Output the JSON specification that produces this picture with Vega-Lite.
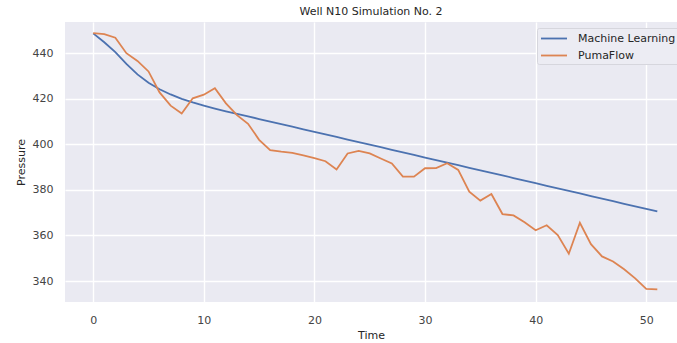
{
  "$schema": "https://vega.github.io/schema/vega-lite/v6.json",
  "width": 612,
  "height": 280,
  "autosize": {"type": "none"},
  "padding": {"left": 65, "top": 22, "right": 0, "bottom": 41},
  "background": "white",
  "title": {"text": "Well N10 Simulation No. 2", "font": "DejaVu Sans", "fontSize": 11, "fontWeight": "normal", "color": "#262626", "offset": 5, "anchor": "middle"},
  "config": {
    "view": {"fill": "#eaeaf2", "stroke": null},
    "font": "DejaVu Sans"
  },
  "datasets": {
    "ml": [
      {"t":0,"v":448.7},{"t":1,"v":444.8},{"t":2,"v":440.5},{"t":3,"v":435.3},{"t":4,"v":430.7},{"t":5,"v":427.0},{"t":6,"v":424.2},{"t":7,"v":421.9},{"t":8,"v":420.0},{"t":9,"v":418.4},{"t":10,"v":417.0},
      {"t":11,"v":415.7},{"t":12,"v":414.5},{"t":13,"v":413.4},{"t":14,"v":412.3},{"t":15,"v":411.1},{"t":16,"v":410.0},{"t":17,"v":408.9},{"t":18,"v":407.8},{"t":19,"v":406.6},{"t":20,"v":405.5},
      {"t":21,"v":404.4},{"t":22,"v":403.3},{"t":23,"v":402.1},{"t":24,"v":401.0},{"t":25,"v":399.9},{"t":26,"v":398.8},{"t":27,"v":397.6},{"t":28,"v":396.5},{"t":29,"v":395.4},{"t":30,"v":394.2},
      {"t":31,"v":393.1},{"t":32,"v":392.0},{"t":33,"v":390.9},{"t":34,"v":389.7},{"t":35,"v":388.6},{"t":36,"v":387.5},{"t":37,"v":386.4},{"t":38,"v":385.2},{"t":39,"v":384.1},{"t":40,"v":383.0},
      {"t":41,"v":381.8},{"t":42,"v":380.7},{"t":43,"v":379.6},{"t":44,"v":378.5},{"t":45,"v":377.3},{"t":46,"v":376.2},{"t":47,"v":375.1},{"t":48,"v":373.9},{"t":49,"v":372.8},{"t":50,"v":371.7},{"t":51,"v":370.6}
    ],
    "pf": [
      {"t":0,"v":448.8},{"t":1,"v":448.4},{"t":2,"v":446.8},{"t":3,"v":440.0},{"t":4,"v":436.6},{"t":5,"v":432.0},{"t":6,"v":422.8},{"t":7,"v":417.0},{"t":8,"v":413.5},{"t":9,"v":420.2},{"t":10,"v":421.8},
      {"t":11,"v":424.6},{"t":12,"v":418.0},{"t":13,"v":412.8},{"t":14,"v":409.0},{"t":15,"v":402.0},{"t":16,"v":397.5},{"t":17,"v":396.8},{"t":18,"v":396.3},{"t":19,"v":395.2},{"t":20,"v":394.0},
      {"t":21,"v":392.6},{"t":22,"v":389.0},{"t":23,"v":396.0},{"t":24,"v":397.1},{"t":25,"v":396.0},{"t":26,"v":393.8},{"t":27,"v":391.6},{"t":28,"v":385.8},{"t":29,"v":385.8},{"t":30,"v":389.5},
      {"t":31,"v":389.6},{"t":32,"v":391.7},{"t":33,"v":388.8},{"t":34,"v":379.2},{"t":35,"v":375.3},{"t":36,"v":378.2},{"t":37,"v":369.4},{"t":38,"v":368.8},{"t":39,"v":365.8},{"t":40,"v":362.3},
      {"t":41,"v":364.5},{"t":42,"v":360.2},{"t":43,"v":352.0},{"t":44,"v":365.6},{"t":45,"v":356.2},{"t":46,"v":350.8},{"t":47,"v":348.6},{"t":48,"v":345.2},{"t":49,"v":341.2},{"t":50,"v":336.6},{"t":51,"v":336.3}
    ]
  },
  "layer": [
    {
      "data": {"name": "ml"},
      "transform": [{"calculate": "'Machine Learning'", "as": "series"}],
      "mark": {"type": "line", "strokeWidth": 1.8, "clip": true},
      "encoding": {
        "x": {"field": "t", "type": "quantitative"},
        "y": {"field": "v", "type": "quantitative"},
        "color": {"field": "series", "type": "nominal"}
      }
    },
    {
      "data": {"name": "pf"},
      "transform": [{"calculate": "'PumaFlow'", "as": "series"}],
      "mark": {"type": "line", "strokeWidth": 1.8, "clip": true},
      "encoding": {
        "x": {"field": "t", "type": "quantitative",
          "scale": {"domain": [-2.55, 52.78], "nice": false, "zero": false},
          "axis": {"title": "Time", "values": [0,10,20,30,40,50], "grid": true, "gridColor": "white", "gridWidth": 1.4, "domain": false, "ticks": false, "labelPadding": 12, "labelFontSize": 11, "labelColor": "#444444", "titleFontSize": 11, "titleFontWeight": "normal", "titleColor": "#262626", "titlePadding": 4}
        },
        "y": {"field": "v", "type": "quantitative",
          "scale": {"domain": [330.8, 453.7], "nice": false, "zero": false},
          "axis": {"title": "Pressure", "values": [340,360,380,400,420,440], "grid": true, "gridColor": "white", "gridWidth": 1.4, "domain": false, "ticks": false, "labelPadding": 12, "labelFontSize": 11, "labelColor": "#444444", "titleFontSize": 11, "titleFontWeight": "normal", "titleColor": "#262626", "titlePadding": 6}
        },
        "color": {"field": "series", "type": "nominal",
          "scale": {"domain": ["Machine Learning", "PumaFlow"], "range": ["#4c72b0", "#dd8452"]},
          "legend": {"title": null, "orient": "none", "legendX": 472, "legendY": 6, "symbolType": "M-1,0H3", "symbolSize": 169, "symbolStrokeWidth": 1.8, "labelFontSize": 11, "labelColor": "#262626", "fillColor": "#ececf3", "strokeColor": "#d6d6dd", "padding": 3, "cornerRadius": 2, "rowPadding": 4, "labelOffset": 23}
        }
      }
    }
  ]
}
